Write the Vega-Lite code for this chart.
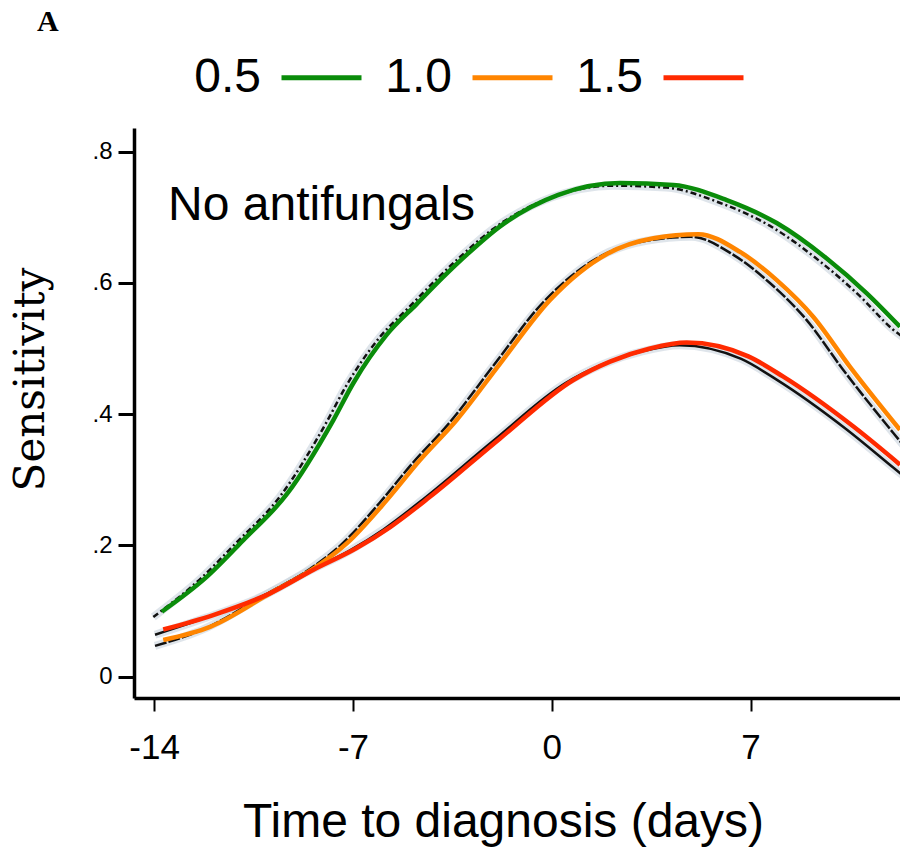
{
  "$schema": "https://vega.github.io/schema/vega-lite/v6.json",
  "autosize": "none",
  "width": 766,
  "height": 570,
  "padding": {"left": 134, "top": 128, "right": 0, "bottom": 150},
  "background": "white",
  "title": {"text": "A", "anchor": "start", "frame": "group", "font": "Liberation Serif", "fontSize": 30, "fontWeight": "bold", "color": "black", "dx": -97, "dy": 88, "offset": 62, "baseline": "alphabetic"},
  "config": {"view": {"stroke": null}, "axis": {"grid": false, "domainColor": "black", "tickColor": "black", "labelColor": "black", "titleColor": "black"}},
  "data": {"values": [
    {"kind": "color", "series": "0.5", "x": -13.73, "y": 0.099},
    {"kind": "color", "series": "0.5", "x": -12.15, "y": 0.152},
    {"kind": "color", "series": "0.5", "x": -10.86, "y": 0.208},
    {"kind": "color", "series": "0.5", "x": -9.33, "y": 0.278},
    {"kind": "color", "series": "0.5", "x": -7.69, "y": 0.391},
    {"kind": "color", "series": "0.5", "x": -6.99, "y": 0.447},
    {"kind": "color", "series": "0.5", "x": -5.81, "y": 0.521},
    {"kind": "color", "series": "0.5", "x": -4.75, "y": 0.568},
    {"kind": "color", "series": "0.5", "x": -3.82, "y": 0.609},
    {"kind": "color", "series": "0.5", "x": -2.99, "y": 0.643},
    {"kind": "color", "series": "0.5", "x": -1.82, "y": 0.686},
    {"kind": "color", "series": "0.5", "x": 0.23, "y": 0.734},
    {"kind": "color", "series": "0.5", "x": 2.40, "y": 0.752},
    {"kind": "color", "series": "0.5", "x": 4.28, "y": 0.749},
    {"kind": "color", "series": "0.5", "x": 6.16, "y": 0.726},
    {"kind": "color", "series": "0.5", "x": 7.92, "y": 0.691},
    {"kind": "color", "series": "0.5", "x": 9.68, "y": 0.637},
    {"kind": "color", "series": "0.5", "x": 11.09, "y": 0.584},
    {"kind": "color", "series": "0.5", "x": 12.26, "y": 0.533},
    {"kind": "color", "series": "1.0", "x": -13.68, "y": 0.056},
    {"kind": "color", "series": "1.0", "x": -12.03, "y": 0.076},
    {"kind": "color", "series": "1.0", "x": -9.92, "y": 0.127},
    {"kind": "color", "series": "1.0", "x": -8.27, "y": 0.168},
    {"kind": "color", "series": "1.0", "x": -7.22, "y": 0.203},
    {"kind": "color", "series": "1.0", "x": -5.81, "y": 0.269},
    {"kind": "color", "series": "1.0", "x": -4.64, "y": 0.330},
    {"kind": "color", "series": "1.0", "x": -3.35, "y": 0.391},
    {"kind": "color", "series": "1.0", "x": -1.82, "y": 0.477},
    {"kind": "color", "series": "1.0", "x": -0.06, "y": 0.574},
    {"kind": "color", "series": "1.0", "x": 1.94, "y": 0.644},
    {"kind": "color", "series": "1.0", "x": 3.58, "y": 0.668},
    {"kind": "color", "series": "1.0", "x": 5.16, "y": 0.674},
    {"kind": "color", "series": "1.0", "x": 6.63, "y": 0.647},
    {"kind": "color", "series": "1.0", "x": 7.92, "y": 0.604},
    {"kind": "color", "series": "1.0", "x": 9.21, "y": 0.548},
    {"kind": "color", "series": "1.0", "x": 10.50, "y": 0.472},
    {"kind": "color", "series": "1.0", "x": 12.26, "y": 0.376},
    {"kind": "color", "series": "1.5", "x": -13.68, "y": 0.072},
    {"kind": "color", "series": "1.5", "x": -11.92, "y": 0.094},
    {"kind": "color", "series": "1.5", "x": -9.92, "y": 0.127},
    {"kind": "color", "series": "1.5", "x": -8.39, "y": 0.163},
    {"kind": "color", "series": "1.5", "x": -6.87, "y": 0.196},
    {"kind": "color", "series": "1.5", "x": -5.69, "y": 0.228},
    {"kind": "color", "series": "1.5", "x": -4.29, "y": 0.274},
    {"kind": "color", "series": "1.5", "x": -1.82, "y": 0.363},
    {"kind": "color", "series": "1.5", "x": 0.76, "y": 0.452},
    {"kind": "color", "series": "1.5", "x": 2.05, "y": 0.480},
    {"kind": "color", "series": "1.5", "x": 3.46, "y": 0.500},
    {"kind": "color", "series": "1.5", "x": 4.75, "y": 0.509},
    {"kind": "color", "series": "1.5", "x": 6.92, "y": 0.488},
    {"kind": "color", "series": "1.5", "x": 8.15, "y": 0.457},
    {"kind": "color", "series": "1.5", "x": 10.62, "y": 0.381},
    {"kind": "color", "series": "1.5", "x": 12.26, "y": 0.323},
    {"kind": "black", "series": "0.5", "x": -14.03, "y": 0.091},
    {"kind": "black", "series": "0.5", "x": -12.40, "y": 0.148},
    {"kind": "black", "series": "0.5", "x": -11.11, "y": 0.204},
    {"kind": "black", "series": "0.5", "x": -9.58, "y": 0.274},
    {"kind": "black", "series": "0.5", "x": -7.94, "y": 0.387},
    {"kind": "black", "series": "0.5", "x": -7.24, "y": 0.443},
    {"kind": "black", "series": "0.5", "x": -6.06, "y": 0.517},
    {"kind": "black", "series": "0.5", "x": -5.00, "y": 0.564},
    {"kind": "black", "series": "0.5", "x": -4.07, "y": 0.605},
    {"kind": "black", "series": "0.5", "x": -3.24, "y": 0.639},
    {"kind": "black", "series": "0.5", "x": -2.07, "y": 0.682},
    {"kind": "black", "series": "0.5", "x": -0.02, "y": 0.730},
    {"kind": "black", "series": "0.5", "x": 2.15, "y": 0.748},
    {"kind": "black", "series": "0.5", "x": 4.03, "y": 0.745},
    {"kind": "black", "series": "0.5", "x": 5.91, "y": 0.722},
    {"kind": "black", "series": "0.5", "x": 7.67, "y": 0.687},
    {"kind": "black", "series": "0.5", "x": 9.43, "y": 0.633},
    {"kind": "black", "series": "0.5", "x": 10.84, "y": 0.580},
    {"kind": "black", "series": "0.5", "x": 12.01, "y": 0.529},
    {"kind": "black", "series": "0.5", "x": 12.60, "y": 0.510},
    {"kind": "black", "series": "1.0", "x": -13.97, "y": 0.047},
    {"kind": "black", "series": "1.0", "x": -12.28, "y": 0.072},
    {"kind": "black", "series": "1.0", "x": -10.17, "y": 0.123},
    {"kind": "black", "series": "1.0", "x": -8.52, "y": 0.164},
    {"kind": "black", "series": "1.0", "x": -7.47, "y": 0.199},
    {"kind": "black", "series": "1.0", "x": -6.06, "y": 0.265},
    {"kind": "black", "series": "1.0", "x": -4.89, "y": 0.326},
    {"kind": "black", "series": "1.0", "x": -3.60, "y": 0.387},
    {"kind": "black", "series": "1.0", "x": -2.07, "y": 0.473},
    {"kind": "black", "series": "1.0", "x": -0.31, "y": 0.570},
    {"kind": "black", "series": "1.0", "x": 1.69, "y": 0.640},
    {"kind": "black", "series": "1.0", "x": 3.33, "y": 0.664},
    {"kind": "black", "series": "1.0", "x": 4.91, "y": 0.670},
    {"kind": "black", "series": "1.0", "x": 6.38, "y": 0.643},
    {"kind": "black", "series": "1.0", "x": 7.67, "y": 0.600},
    {"kind": "black", "series": "1.0", "x": 8.96, "y": 0.544},
    {"kind": "black", "series": "1.0", "x": 10.25, "y": 0.468},
    {"kind": "black", "series": "1.0", "x": 12.01, "y": 0.372},
    {"kind": "black", "series": "1.0", "x": 12.60, "y": 0.341},
    {"kind": "black", "series": "1.5", "x": -13.97, "y": 0.064},
    {"kind": "black", "series": "1.5", "x": -12.17, "y": 0.090},
    {"kind": "black", "series": "1.5", "x": -10.17, "y": 0.123},
    {"kind": "black", "series": "1.5", "x": -8.64, "y": 0.159},
    {"kind": "black", "series": "1.5", "x": -7.12, "y": 0.192},
    {"kind": "black", "series": "1.5", "x": -5.94, "y": 0.224},
    {"kind": "black", "series": "1.5", "x": -4.54, "y": 0.270},
    {"kind": "black", "series": "1.5", "x": -2.07, "y": 0.359},
    {"kind": "black", "series": "1.5", "x": 0.51, "y": 0.448},
    {"kind": "black", "series": "1.5", "x": 1.80, "y": 0.476},
    {"kind": "black", "series": "1.5", "x": 3.21, "y": 0.496},
    {"kind": "black", "series": "1.5", "x": 4.50, "y": 0.505},
    {"kind": "black", "series": "1.5", "x": 6.67, "y": 0.484},
    {"kind": "black", "series": "1.5", "x": 7.90, "y": 0.453},
    {"kind": "black", "series": "1.5", "x": 10.37, "y": 0.377},
    {"kind": "black", "series": "1.5", "x": 12.01, "y": 0.319},
    {"kind": "black", "series": "1.5", "x": 12.60, "y": 0.298}
  ]},
  "encoding": {
    "x": {"field": "x", "type": "quantitative",
      "scale": {"domain": [-14.71, 12.26], "nice": false, "zero": false},
      "axis": {"values": [-14, -7, 0, 7], "labelExpr": "'' + datum.value", "title": "Time to diagnosis (days)", "titleFont": "Liberation Sans", "titleFontSize": 48, "titleFontWeight": "normal", "titleX": 369, "titleY": 138, "titleBaseline": "alphabetic", "titleAnchor": null, "titleAlign": "center",
        "labelFont": "Liberation Sans", "labelFontSize": 35, "labelPadding": 19, "tickSize": 13, "tickWidth": 2, "domainWidth": 3.5, "labelFlush": false}},
    "y": {"field": "y", "type": "quantitative",
      "scale": {"domain": [-0.0324, 0.8358], "nice": false, "zero": false},
      "axis": {"values": [0, 0.2, 0.4, 0.6, 0.8], "labelExpr": "datum.value == 0 ? '0' : replace(format(datum.value, '.1f'), '0.', '.')", "title": "Sensitivity", "titleFont": "DejaVu Serif", "titleFontSize": 42, "titleFontWeight": "normal", "titleAngle": -90, "titleX": -91, "titleY": 251, "titleBaseline": "alphabetic", "titleAlign": "center", "titleAnchor": null,
        "labelFont": "Liberation Sans", "labelFontSize": 24, "labelPadding": 6, "tickSize": 16, "tickWidth": 3, "domainWidth": 3.5, "labelFlush": false}}
  },
  "layer": [
    {
      "transform": [{"filter": "datum.kind == 'black'"}],
      "mark": {"type": "line", "clip": true, "stroke": "#c9d3de", "strokeWidth": 8, "opacity": 0.6, "interpolate": "monotone"},
      "encoding": {"detail": {"field": "series"}}
    },
    {
      "transform": [{"filter": "datum.kind == 'black' && datum.series == '0.5'"}],
      "mark": {"type": "line", "clip": true, "stroke": "#111111", "strokeWidth": 2.5, "strokeDash": [6, 3, 2, 3], "interpolate": "monotone"},
      "encoding": {}
    },
    {
      "transform": [{"filter": "datum.kind == 'black' && datum.series == '1.0'"}],
      "mark": {"type": "line", "clip": true, "stroke": "#111111", "strokeWidth": 2.5, "strokeDash": [12, 2], "interpolate": "monotone"},
      "encoding": {}
    },
    {
      "transform": [{"filter": "datum.kind == 'black' && datum.series == '1.5'"}],
      "mark": {"type": "line", "clip": true, "stroke": "#111111", "strokeWidth": 2.5, "interpolate": "monotone"},
      "encoding": {}
    },
    {
      "transform": [{"filter": "datum.kind == 'color'"}],
      "mark": {"type": "line", "clip": true, "strokeWidth": 4.5, "interpolate": "monotone"},
      "encoding": {
        "color": {"field": "series", "type": "nominal",
          "scale": {"domain": ["0.5", "1.0", "1.5"], "range": ["#0a8c0a", "#ff8500", "#ff2a00"]},
          "legend": {"title": null, "orient": "none", "legendX": 145, "legendY": -93, "direction": "horizontal", "symbolType": "stroke", "symbolSize": 6400, "symbolStrokeWidth": 5, "labelFont": "Liberation Sans", "labelFontSize": 48, "labelColor": "black", "labelAlign": "right", "labelOffset": -103, "columnPadding": 13, "labelLimit": 0}}
      }
    },
    {
      "transform": [{"filter": "datum.kind == 'color' && datum.series == '0.5' && datum.x == -13.73"}],
      "mark": {"type": "text", "align": "left", "baseline": "alphabetic", "font": "Liberation Sans", "fontSize": 48, "color": "black"},
      "encoding": {"x": {"datum": -13.51}, "y": {"datum": 0.695}, "text": {"value": "No antifungals"}}
    }
  ]
}
